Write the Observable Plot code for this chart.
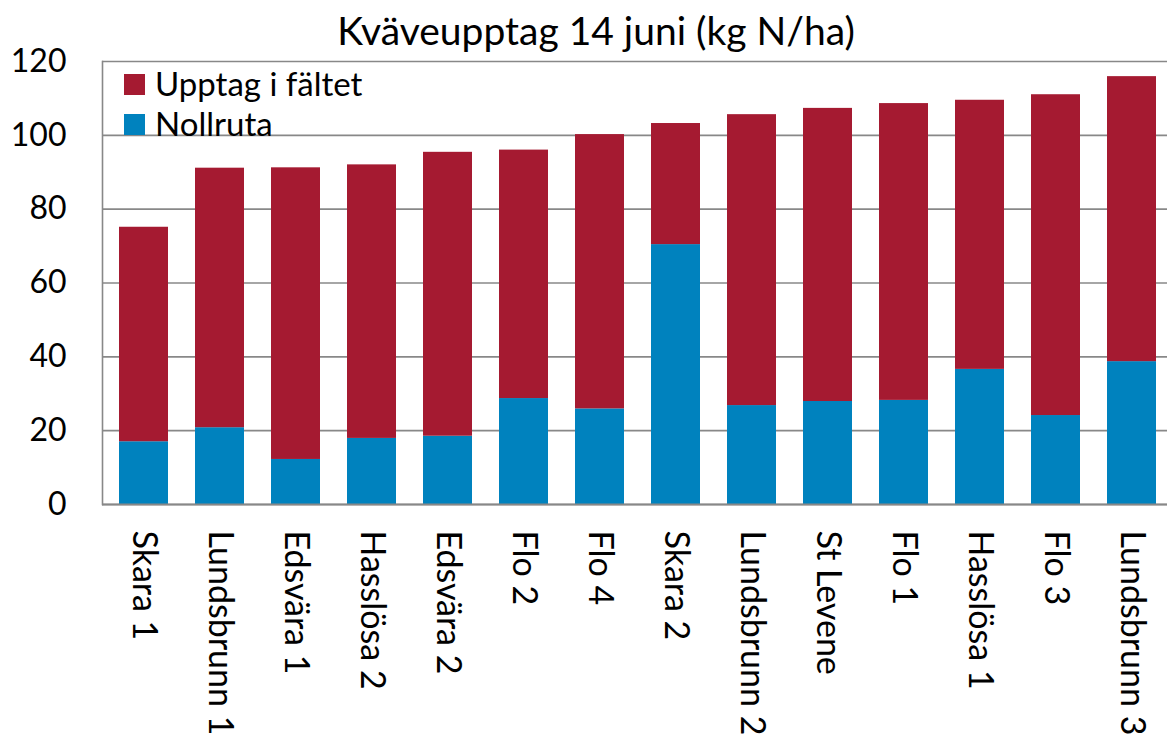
<!DOCTYPE html>
<html><head><meta charset="utf-8">
<script src="https://cdn.jsdelivr.net/npm/d3@7"></script>
<script src="https://cdn.jsdelivr.net/npm/@observablehq/plot@0.6"></script>
<style>
html,body{margin:0;padding:0;background:#fff;overflow:hidden;}
#wrap{position:relative;width:1167px;height:736px;overflow:hidden;font-family:Lato,sans-serif;color:#000;}
#chart{position:absolute;left:0;top:0;width:1173px;}
#chart svg{max-width:none !important;}
#title{position:absolute;left:596px;top:11px;transform:translateX(-50%);font-size:39px;line-height:1;white-space:nowrap;}
.lg-sq{position:absolute;width:21px;height:21px;}
.lg-tx{position:absolute;font-size:33px;line-height:1;white-space:nowrap;}
</style></head><body>
<div id="wrap">
  <div id="chart"></div>
  <div id="title">Kväveupptag 14 juni (kg N/ha)</div>
  <div id="legend"></div>
</div>
<script>
const sites = ["Skara 1","Lundsbrunn 1","Edsvära 1","Hasslösa 2","Edsvära 2","Flo 2","Flo 4","Skara 2","Lundsbrunn 2","St Levene","Flo 1","Hasslösa 1","Flo 3","Lundsbrunn 3"];
const nollruta = [17.0, 20.8, 12.2, 17.9, 18.5, 28.7, 25.9, 70.4, 26.8, 27.9, 28.2, 36.6, 24.1, 38.7];
const upptag   = [58.1, 70.3, 79.0, 74.1, 76.9, 67.3, 74.3, 32.8, 78.8, 79.4, 80.4, 72.9, 86.9, 77.2];
const seriesNames = ["Nollruta", "Upptag i fältet"];
const seriesColors = ["#0082BE", "#A51A31"];
const legendOrder = ["Upptag i fältet", "Nollruta"];
const yTicks = [0, 20, 40, 60, 80, 100, 120];

const rows = sites.flatMap((s, i) => [
  {site: s, serie: "Nollruta", value: nollruta[i]},
  {site: s, serie: "Upptag i fältet", value: upptag[i]}
]);

const chart = Plot.plot({
  width: 1173,
  height: 736,
  marginTop: 61,
  marginBottom: 232,
  marginLeft: 102,
  marginRight: 0,
  style: {fontFamily: "Lato, sans-serif", fontSize: "32px", color: "#000", background: "#fff", overflow: "visible", maxWidth: "none"},
  x: {domain: sites, paddingInner: 0.36, paddingOuter: 0.18, label: null},
  y: {domain: [0, 120], label: null},
  color: {domain: seriesNames, range: seriesColors},
  marks: [
    Plot.gridY(yTicks, {stroke: "#888", strokeOpacity: 1, strokeWidth: 1.6}),
    Plot.barY(rows, {x: "site", y: "value", fill: "serie", order: seriesNames}),
    Plot.ruleY([0], {stroke: "#888", strokeWidth: 2}),
    Plot.frame({anchor: "left", stroke: "#888", strokeWidth: 1.6}),
    Plot.axisY(yTicks, {tickSize: 0, tickPadding: 36, fontSize: 32, label: null}),
    Plot.axisX({tickSize: 0, tickRotate: 90, tickPadding: 26, fontSize: 34, label: null})
  ]
});
document.getElementById("chart").appendChild(chart);

const lg = document.getElementById("legend");
legendOrder.forEach((name, k) => {
  const col = seriesColors[seriesNames.indexOf(name)];
  const sq = document.createElement("div");
  sq.className = "lg-sq";
  sq.style.left = "124px";
  sq.style.top = (74 + 40 * k) + "px";
  sq.style.background = col;
  lg.appendChild(sq);
  const tx = document.createElement("div");
  tx.className = "lg-tx";
  tx.style.left = "155px";
  tx.style.top = (67 + 40 * k) + "px";
  tx.textContent = name;
  lg.appendChild(tx);
});
</script>
</body></html>
